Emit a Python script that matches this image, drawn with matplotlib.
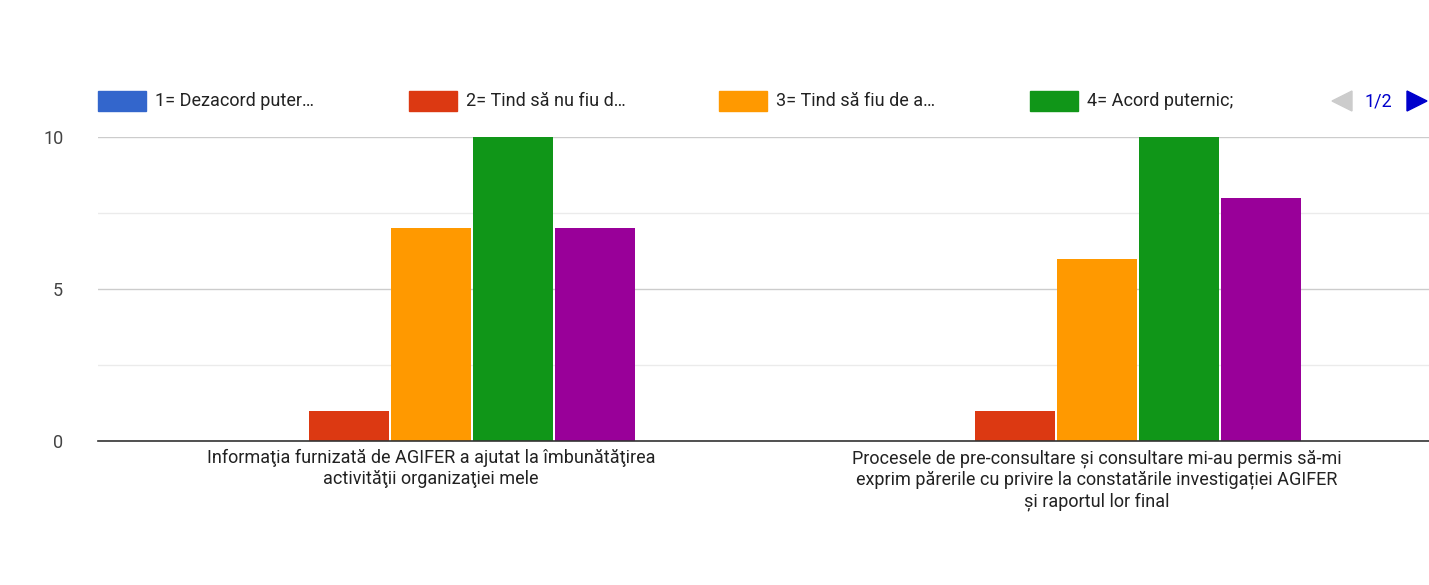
import matplotlib
matplotlib.use("Agg")
import matplotlib.pyplot as plt
from matplotlib.patches import Rectangle, Polygon
import numpy as np

plt.rcParams["font.family"] = "Roboto"

categories = ["Informaţia furnizată de AGIFER a ajutat la îmbunătăţirea\nactivităţii organizaţiei mele",
              "Procesele de pre-consultare și consultare mi-au permis să-mi\nexprim părerile cu privire la constatările investigației AGIFER\nși raportul lor final"]
series_names = ["1= Dezacord puter…", "2= Tind să nu fiu d…", "3= Tind să fiu de a…", "4= Acord puternic;", "5"]
values = [[0, 0], [1, 1], [7, 6], [10, 10], [7, 8]]
colors = ["#3366cc", "#dc3912", "#ff9900", "#109618", "#990099"]

fig = plt.figure(figsize=(14.29, 5.85), dpi=100)
ax = fig.add_axes([98/1429, 144/585, 1332/1429, 304/585])
x = np.arange(len(categories))
w = 0.1231
for i, (vals, c) in enumerate(zip(values, colors)):
    ax.bar(x + (i - 2) * w, vals, width=w - 0.003, color=c, zorder=3)
ax.set_xlim(-0.5, 1.5)
ax.set_ylim(0, 10)
ax.set_yticks([0, 5, 10])
ax.set_yticks([2.5, 7.5], minor=True)
ax.grid(axis="y", which="major", color="#cccccc", lw=1, zorder=0)
ax.grid(axis="y", which="minor", color="#ebebeb", lw=1, zorder=0)
ax.tick_params(axis="y", which="both", length=0, labelsize=13, labelcolor="#444444", pad=25)
ax.set_xticks(x)
ax.set_xticklabels(categories, fontsize=13, color="#222222")
ax.tick_params(axis="x", length=0, pad=6)
for s in ["top", "right", "left"]:
    ax.spines[s].set_visible(False)
ax.spines["bottom"].set_color("#333333")
ax.spines["bottom"].set_linewidth(1.2)
ax.spines["bottom"].set_zorder(5)

# legend
W, H = 1429, 585
starts = [98, 409, 719, 1030]
for sx, name, c in zip(starts, series_names[:4], colors[:4]):
    fig.add_artist(Rectangle((sx / W, (H - 111) / H), 48 / W, 20 / H, color=c, transform=fig.transFigure))
    fig.text((sx + 57) / W, (H - 101) / H, name, fontsize=13, color="#222222", va="center")
fig.add_artist(Polygon([[1332/W, (H-101)/H], [1352/W, (H-91)/H], [1352/W, (H-111)/H]],
                       closed=True, color="#cccccc", transform=fig.transFigure))
fig.text(1364/W, (H-101)/H, "1/2", fontsize=13, color="#0000cc", va="center")
fig.add_artist(Polygon([[1427/W, (H-101)/H], [1407/W, (H-91)/H], [1407/W, (H-111)/H]],
                       closed=True, color="#0000cc", transform=fig.transFigure))

fig.savefig("out.png", dpi=100)
